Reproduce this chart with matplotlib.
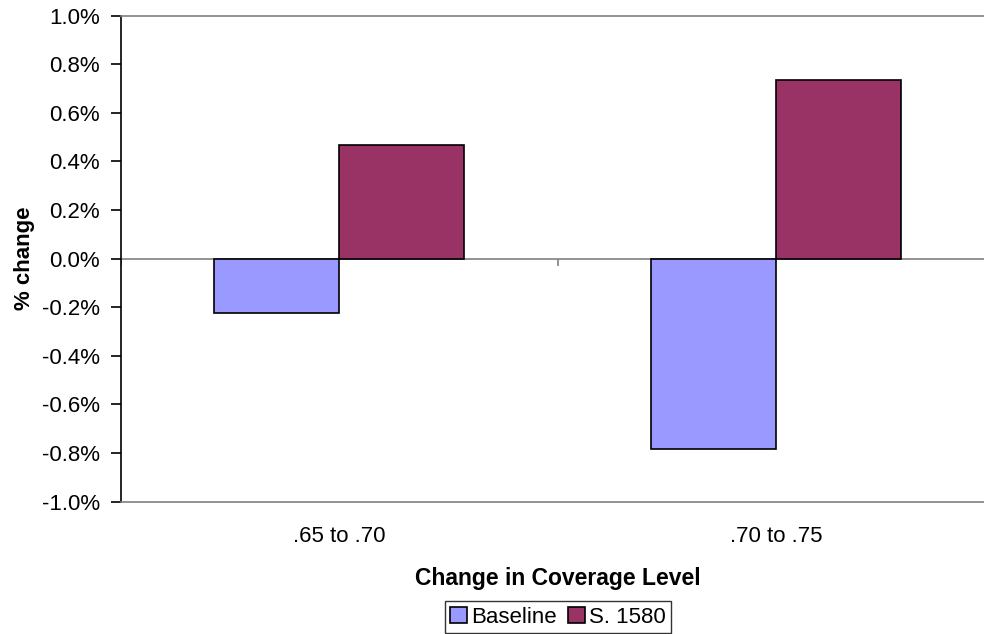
import numpy as np
import matplotlib
matplotlib.use('Agg')
import matplotlib.pyplot as plt
from matplotlib.ticker import FuncFormatter

plt.rcParams['font.family'] = ['Liberation Sans', 'DejaVu Sans']

### Chart data
categories = ['.65 to .70', '.70 to .75']
baseline = [-0.224, -0.784]
s1580 = [0.467, 0.735]
seriesNames = ['Baseline', 'S. 1580']

fig = plt.figure(figsize=(9.84, 6.34), dpi=100)
# plot area runs a bit past the right edge, as in the reference
ax = fig.add_axes([121 / 984, 1 - 501.5 / 634, (994.5 - 121) / 984, (501.5 - 15.5) / 634])

x = np.arange(len(categories))
barWidth = 0.286
ax.bar(x - barWidth / 2, baseline, barWidth, color='#9999FF', edgecolor='black', linewidth=1.2, label=seriesNames[0], zorder=3)
ax.bar(x + barWidth / 2, s1580, barWidth, color='#993366', edgecolor='black', linewidth=1.2, label=seriesNames[1], zorder=3)

ax.set_xlim(-0.5, len(categories) - 0.5)
ax.set_ylim(-1.0, 1.0)
ax.set_yticks(np.arange(-1.0, 1.01, 0.2))
ax.yaxis.set_major_formatter(FuncFormatter(lambda v, p: '{:.1f}%'.format(round(v, 1) + 0.0)))

# zero line with category-boundary ticks
ax.axhline(0, color='#808080', linewidth=1.2, zorder=2)
ax.vlines(np.arange(len(categories) + 1) - 0.5, -0.03, 0, color='#808080', linewidth=1.2, zorder=2)

for side in ['top', 'bottom', 'right']:
    ax.spines[side].set_color('#808080')
    ax.spines[side].set_linewidth(1.2)
ax.spines['left'].set_color('black')
ax.spines['left'].set_linewidth(1.2)

ax.tick_params(axis='y', direction='out', length=7, width=1.2, labelsize=16, pad=8)
ax.set_xticks(x)
ax.set_xticklabels(categories)
ax.tick_params(axis='x', length=0, labelsize=16, pad=18)

ax.set_xlabel('Change in Coverage Level', fontsize=16.5, fontweight='bold', labelpad=14)
ax.set_ylabel('% change', fontsize=16, fontweight='bold', labelpad=5)

leg = fig.legend(loc='upper center', bbox_to_anchor=(558 / 984, 1 - 601 / 634), ncol=2, fontsize=16,
                 frameon=True, fancybox=False, edgecolor='black', handlelength=0.75, handleheight=0.75,
                 handletextpad=0.2, columnspacing=0.5, borderpad=0.25, borderaxespad=0)
leg.get_frame().set_linewidth(1.0)

fig.savefig('out.png', dpi=100)
